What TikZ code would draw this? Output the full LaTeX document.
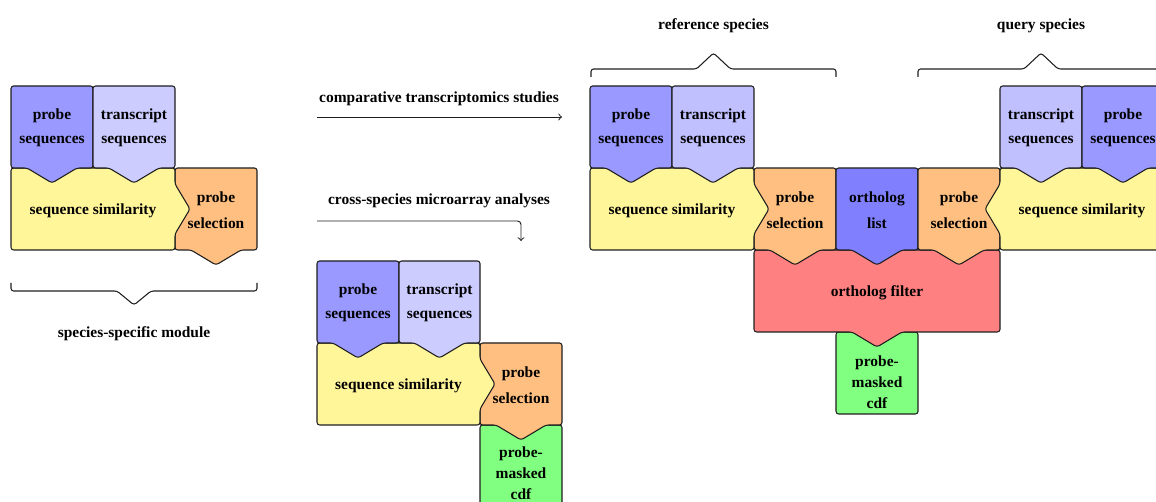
\documentclass[tikz,border=0pt]{standalone}
\usepackage{fontspec}
\setmainfont{Liberation Serif}
\definecolor{cPS}{RGB}{153,153,255}
\definecolor{cTS}{RGB}{204,204,255}
\definecolor{cTSb}{RGB}{192,192,255}
\definecolor{cOL}{RGB}{128,128,255}
\definecolor{cSS}{RGB}{255,245,153}
\definecolor{cSel}{RGB}{255,191,128}
\definecolor{cFil}{RGB}{255,128,128}
\definecolor{cCdf}{RGB}{128,255,128}
\definecolor{cLine}{RGB}{30,30,30}
\newcommand\nhw{25}
\newcommand\ndp{15}
% #1 style, #2 x1, #3 y1, #4 x2, #5 y2, #6 top, #7 right, #8 bottom, #9 left (1 = protrusion)
\newcommand\blk[9]{%
  \filldraw[blockstyle,#1] (#2,#3)
    -- ({(#2+#4)/2-\nhw},#3) -- ({(#2+#4)/2},{#3-#6*\ndp}) -- ({(#2+#4)/2+\nhw},#3)
    -- (#4,#3)
    -- (#4,{(#3+#5)/2-\nhw}) -- ({#4+#7*\ndp},{(#3+#5)/2}) -- (#4,{(#3+#5)/2+\nhw})
    -- (#4,#5)
    -- ({(#2+#4)/2+\nhw},#5) -- ({(#2+#4)/2},{#5+#8*\ndp}) -- ({(#2+#4)/2-\nhw},#5)
    -- (#2,#5)
    -- (#2,{(#3+#5)/2+\nhw}) -- ({#2-#9*\ndp},{(#3+#5)/2}) -- (#2,{(#3+#5)/2-\nhw})
    -- cycle;}
\tikzset{
  blockstyle/.style={draw=cLine, line width=0.6pt, rounded corners=1.5pt, line join=round},
  lbl/.style={font=\fontsize{8.8}{12}\selectfont\bfseries, align=center, inner sep=0pt, text=black, yshift=-0.8pt},
  bracestyle/.style={draw=cLine, line width=0.6pt, rounded corners=1.5pt},
  arr/.style={draw=cLine, line width=0.55pt, ->, rounded corners=2pt},
}
\begin{document}
\begin{tikzpicture}[x=0.02cm, y=-0.02cm]
\useasboundingbox (0,0) rectangle (1156,502);
\clip (0,0) rectangle (1156,502);

% ---------- module 1: species-specific module ----------
\blk{fill=cSel}{175}{168}{257}{250}{0}{0}{1}{0}
\blk{fill=cSS}{11}{168}{175}{250}{0}{1}{0}{0}
\blk{fill=cPS}{11}{86}{93}{168}{0}{0}{1}{0}
\blk{fill=cTS}{93}{86}{175}{168}{0}{0}{1}{0}
\node[lbl] (ps1) at (52,126) {probe\\[1.7pt]sequences};
\node[lbl] (ts1) at (134,126) {transcript\\[1.7pt]sequences};
\node[lbl] (ss1) at (93,209) {sequence similarity};
\node[lbl] (sel1) at (216,209) {probe\\[3pt]selection};
\draw[bracestyle] (11,283) -- (11,291) -- (117,291) -- (134,305) -- (151,291) -- (257,291) -- (257,283);
\node[lbl] (mod) at (134,332) {species-specific module};

% ---------- arrows ----------
\node[lbl] (cts) at (439,97) {comparative transcriptomics studies};
\coordinate (c1a) at (317,117);
\coordinate (c1b) at (562,117);
\draw[arr] (c1a) -- (c1b);
\node[lbl] (csm) at (439,199) {cross-species microarray analyses};
\coordinate (c2a) at (317,221);
\coordinate (c2k) at (521,221);
\coordinate (c2b) at (521,241);
\draw[arr] (c2a) -- (c2k) -- (c2b);

% ---------- module 2: cross-species microarray ----------
\blk{fill=cCdf}{480}{425}{562}{507}{0}{0}{0}{0}
\blk{fill=cSel}{480}{343}{562}{425}{0}{0}{1}{0}
\blk{fill=cSS}{317}{343}{480}{425}{0}{1}{0}{0}
\blk{fill=cPS}{317}{261}{399}{343}{0}{0}{1}{0}
\blk{fill=cTS}{399}{261}{480}{343}{0}{0}{1}{0}
\node[lbl] (ps2) at (358,301) {probe\\[1.7pt]sequences};
\node[lbl] (ts2) at (439.5,301) {transcript\\[1.7pt]sequences};
\node[lbl] (ss2) at (398.5,384) {sequence similarity};
\node[lbl] (sel2) at (521,384) {probe\\[3pt]selection};
\node[lbl] (cdf2) at (521,472) {probe-\\masked\\cdf};

% ---------- module 3: comparative transcriptomics ----------
\blk{fill=cCdf}{836}{332}{918}{414}{0}{0}{0}{0}
\blk{fill=cFil}{754}{250}{1000}{332}{0}{0}{1}{0}
\blk{fill=cSel}{754}{168}{836}{250}{0}{0}{1}{0}
\blk{fill=cOL}{836}{168}{918}{250}{0}{0}{1}{0}
\blk{fill=cSel}{918}{168}{1000}{250}{0}{0}{1}{0}
\blk{fill=cSS}{590}{168}{754}{250}{0}{1}{0}{0}
\blk{fill=cSS}{1000}{168}{1164}{250}{0}{0}{0}{1}
\blk{fill=cPS}{590}{86}{672}{168}{0}{0}{1}{0}
\blk{fill=cTSb}{672}{86}{754}{168}{0}{0}{1}{0}
\blk{fill=cTSb}{1000}{86}{1082}{168}{0}{0}{1}{0}
\blk{fill=cPS}{1082}{86}{1164}{168}{0}{0}{1}{0}
\node[lbl] (ps3) at (631,126) {probe\\[1.7pt]sequences};
\node[lbl] (ts3) at (713,126) {transcript\\[1.7pt]sequences};
\node[lbl] (ts4) at (1041,126) {transcript\\[1.7pt]sequences};
\node[lbl] (ps4) at (1123,126) {probe\\[1.7pt]sequences};
\node[lbl] (ss3) at (672,209) {sequence similarity};
\node[lbl] (ss4) at (1082,209) {sequence similarity};
\node[lbl] (sel3) at (795,209) {probe\\[3pt]selection};
\node[lbl] (ol) at (877,209) {ortholog\\[3pt]list};
\node[lbl] (sel4) at (959,209) {probe\\[3pt]selection};
\node[lbl] (fil) at (877,291) {ortholog filter};
\node[lbl] (cdf3) at (877,381) {probe-\\masked\\cdf};

\draw[bracestyle] (591,77) -- (591,69) -- (696.5,69) -- (713.5,53) -- (730.5,69) -- (836,69) -- (836,77);
\node[lbl] (refsp) at (713.5,24) {reference species};
\draw[bracestyle] (918,77) -- (918,69) -- (1024,69) -- (1041,53) -- (1058,69) -- (1164,69) -- (1164,77);
\node[lbl] (qsp) at (1041,24) {query species};
\end{tikzpicture}
\end{document}
